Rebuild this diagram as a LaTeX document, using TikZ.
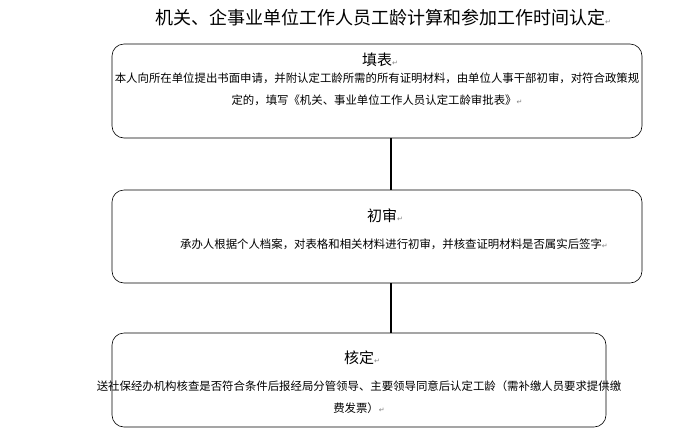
\documentclass[tikz,border=0pt]{standalone}
\usepackage{fontspec}
\setmainfont{Noto Sans CJK SC}
\newfontfamily\dv{DejaVu Sans}
\newcommand{\rmk}{{\dv\color{gray}\fontsize{7}{7}\selectfont ↵}}
\begin{document}
\begin{tikzpicture}[x=1pt,y=-1pt,
  head/.style={font=\fontsize{15}{17}\selectfont},
  body/.style={font=\fontsize{11.4}{22}\selectfont,align=center,inner sep=0pt},
  link/.style={line width=2pt}]
\useasboundingbox (0,0) rectangle (691,440);
\node[font=\fontsize{18}{20}\selectfont] (t) at (383,18) {机关、企事业单位工作人员工龄计算和参加工作时间认定\rmk};
\draw[line width=0.6pt,rounded corners=12pt] (112,44) rectangle (642,138);
\coordinate (b1) at (391,138);
\node[head] (h1) at (380,60) {填表\rmk};
\node[body] (d1) at (377,89) {本人向所在单位提出书面申请，并附认定工龄所需的所有证明材料，由单位人事干部初审，对符合政策规\\定的，填写《机关、事业单位工作人员认定工龄审批表》\rmk};
\draw[line width=0.6pt,rounded corners=12pt] (112,190) rectangle (642,283);
\coordinate (t2) at (391,190); \coordinate (b2) at (391,283);
\node[head] (h2) at (385,216) {初审\rmk};
\node[font=\fontsize{11.4}{13}\selectfont] (d2) at (394,244) {承办人根据个人档案，对表格和相关材料进行初审，并核查证明材料是否属实后签字\rmk};
\draw[line width=0.6pt,rounded corners=12pt] (112,333) rectangle (606,427);
\coordinate (t3) at (391,333);
\node[head] (h3) at (362,358) {核定\rmk};
\node[body] (d3) at (359,397) {送社保经办机构核查是否符合条件后报经局分管领导、主要领导同意后认定工龄（需补缴人员要求提供缴\\费发票）\rmk};
\draw[link] (b1) -- (t2);
\draw[link] (b2) -- (t3);
\end{tikzpicture}
\end{document}
